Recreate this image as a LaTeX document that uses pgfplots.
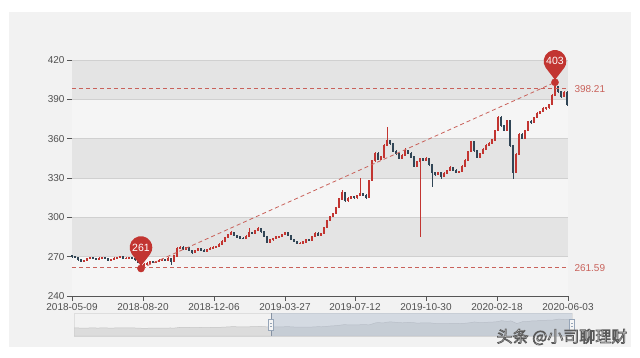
\documentclass[border=0pt]{standalone}
\usepackage{fontspec}
\setmainfont{Liberation Sans}
\newfontfamily\cjk{Noto Sans CJK SC}
\usepackage{pgfplots}
\usepackage{pgfplotstable}
\pgfplotsset{compat=1.18}
\definecolor{upc}{HTML}{C23531}
\definecolor{dnc}{HTML}{314656}
\definecolor{panel}{HTML}{F2F2F2}
\definecolor{banddark}{HTML}{E4E4E4}
\definecolor{bandlight}{HTML}{F5F5F5}
\definecolor{gridc}{HTML}{D0D0D0}
\definecolor{axc}{HTML}{555555}
\definecolor{labc}{HTML}{505050}
\definecolor{mlc}{HTML}{C9625B}
\definecolor{shadowc}{HTML}{DCDCDC}
\definecolor{shadowl}{HTML}{C4C4C4}
\definecolor{selc}{RGB}{167,183,204}

\pgfdeclareplotmark{pin}{%
  \pgfpathmoveto{\pgfqpoint{0pt}{2.5pt}}%
  \pgfpathlineto{\pgfqpoint{-9.26pt}{14.5pt}}%
  \pgfpatharc{215}{-35}{11.3pt}%
  \pgfpathclose
  \pgfusepathqfill
}

% daily candles (every 3rd trading day), x = trading-day index
\pgfplotstableread{
x o h l c
0 270.5 271.2 269.3 270.0
3 270.0 270.6 268.9 269.5
6 269.5 269.9 267.0 267.5
9 267.5 268.0 265.8 266.5
12 266.5 267.8 266.0 267.2
15 267.2 268.9 266.8 268.4
18 268.4 269.6 267.9 269.0
21 269.0 269.5 268.0 268.6
24 268.6 269.0 267.2 267.8
27 267.8 269.5 267.3 268.9
30 268.9 270.0 268.4 269.3
33 269.3 269.8 268.0 268.5
36 268.5 269.0 266.6 267.2
39 267.2 268.6 266.8 268.0
42 268.0 269.4 267.5 268.8
45 268.8 270.1 268.3 269.5
48 269.5 270.5 269.0 269.8
51 269.8 270.2 267.9 268.4
54 268.4 269.5 268.0 268.9
57 268.9 269.8 268.4 269.2
60 269.2 269.6 268.1 268.6
63 268.6 269.0 267.0 267.6
66 267.6 268.0 265.2 265.8
69 265.8 266.3 261.0 262.5
72 262.5 264.8 262.0 264.2
75 264.2 265.6 263.7 265.0
78 265.0 266.9 264.5 266.3
81 266.3 266.8 264.9 265.4
84 265.4 266.8 265.0 266.2
87 266.2 267.9 265.8 267.3
90 267.3 268.6 266.9 268.0
93 268.0 268.5 266.6 267.1
96 267.1 269.4 266.7 268.8
99 268.8 269.3 263.5 266.0
102 266.0 271.0 265.6 270.5
105 270.5 277.0 270.0 276.0
108 276.0 278.2 275.5 277.2
111 277.2 277.8 275.2 275.8
114 275.8 277.6 275.3 276.9
117 276.9 277.4 274.0 274.5
120 274.5 275.0 272.4 273.0
123 273.0 275.2 272.6 274.6
126 274.6 276.6 274.1 276.0
129 276.0 276.5 274.5 275.0
132 275.0 275.6 273.8 274.3
135 274.3 276.0 273.9 275.4
138 275.4 277.0 275.0 276.5
141 276.5 277.9 276.0 277.3
144 277.3 278.4 276.8 277.8
147 277.8 280.1 277.3 279.5
150 279.5 282.4 279.0 281.8
153 281.8 285.2 281.3 284.5
156 284.5 287.5 284.0 286.8
159 286.8 289.3 286.2 288.6
162 288.6 289.1 285.7 286.3
165 286.3 286.9 284.4 285.0
168 285.0 285.6 283.6 284.2
171 284.2 284.8 283.4 284.0
174 284.0 286.2 283.5 285.5
177 285.5 292.0 285.0 288.5
180 288.5 289.0 287.3 288.0
183 288.0 290.5 287.5 289.8
186 289.8 292.4 289.3 291.5
189 291.5 292.0 288.4 289.0
192 289.0 289.5 284.9 285.5
195 285.5 286.0 280.3 281.0
198 281.0 283.4 280.5 282.8
201 282.8 284.6 282.3 284.0
204 284.0 285.6 283.5 285.0
207 285.0 286.0 284.5 285.4
210 285.4 287.6 284.9 287.0
213 287.0 288.8 286.5 288.2
216 288.2 288.7 285.4 286.0
219 286.0 286.5 282.4 283.0
222 283.0 283.6 280.9 281.5
225 281.5 282.0 279.3 280.0
228 280.0 281.0 279.5 280.4
231 280.4 281.8 279.9 281.2
234 281.2 283.6 280.7 283.0
237 283.0 283.5 282.0 282.6
240 282.6 286.1 282.1 285.5
243 285.5 288.6 285.0 288.0
246 288.0 288.5 285.9 286.5
249 286.5 288.1 286.0 287.5
252 287.5 292.6 287.0 292.0
255 292.0 298.1 291.5 297.5
258 297.5 301.1 297.0 300.5
261 300.5 303.6 300.0 303.0
264 303.0 308.2 302.5 307.5
267 307.5 314.8 307.0 314.0
270 314.0 320.5 313.5 319.0
273 319.0 319.6 311.5 313.0
276 313.0 315.2 312.0 314.5
279 314.5 316.5 313.8 315.8
282 315.8 316.3 314.0 314.8
285 314.8 317.2 314.3 316.5
288 316.5 330.0 316.0 318.0
291 318.0 318.6 316.2 317.0
294 317.0 317.5 314.2 315.0
297 315.0 328.8 314.5 328.0
300 328.0 343.8 327.5 343.0
303 343.0 349.8 342.5 349.0
306 349.0 349.5 343.8 344.5
309 344.5 346.8 343.9 346.0
312 346.0 355.8 345.5 355.0
315 355.0 369.0 354.5 358.5
318 358.5 359.2 355.3 356.0
321 356.0 356.6 349.8 350.5
324 350.5 351.0 347.8 348.5
327 348.5 349.0 344.2 345.0
330 345.0 348.2 344.5 347.5
333 347.5 353.0 347.0 351.0
336 351.0 351.6 348.3 349.0
339 349.0 349.5 345.3 346.0
342 346.0 346.5 338.2 339.0
345 339.0 343.2 338.5 342.5
348 342.5 345.5 285.0 344.5
351 344.5 345.0 342.8 343.5
354 343.5 346.2 343.0 345.0
357 345.0 345.6 339.3 340.0
360 340.0 340.5 323.0 334.0
363 334.0 334.6 331.8 332.5
366 332.5 334.8 332.0 334.0
369 334.0 334.5 329.5 331.5
372 331.5 334.2 331.0 333.5
375 333.5 336.2 333.0 335.5
378 335.5 338.8 335.0 338.0
381 338.0 338.6 335.3 336.0
384 336.0 336.5 333.8 334.5
387 334.5 335.7 334.0 335.0
390 335.0 339.8 334.5 339.0
393 339.0 344.2 338.5 343.5
396 343.5 350.8 343.0 350.0
399 350.0 358.5 349.5 357.5
402 357.5 358.0 350.2 351.0
405 351.0 351.6 345.0 346.0
408 346.0 349.2 345.5 348.5
411 348.5 352.8 348.0 352.0
414 352.0 355.8 351.5 355.0
417 355.0 357.2 354.5 356.5
420 356.5 359.8 356.0 359.0
423 359.0 366.8 358.5 366.0
426 366.0 377.5 365.5 376.5
429 376.5 377.0 369.2 370.0
432 370.0 370.6 365.8 366.5
435 366.5 374.3 366.0 373.5
438 373.5 374.0 354.0 355.0
441 355.0 355.5 329.0 334.0
444 334.0 348.8 333.5 348.0
447 348.0 364.3 347.5 363.5
450 363.5 364.0 359.8 360.5
453 360.5 366.8 360.0 366.0
456 366.0 373.8 365.5 373.0
459 373.0 374.0 371.5 372.5
462 372.5 376.8 372.0 376.0
465 376.0 380.2 375.5 379.5
468 379.5 381.2 379.0 380.5
471 380.5 383.8 380.0 383.0
474 383.0 384.3 382.2 383.5
477 383.5 386.8 383.0 386.0
480 386.0 393.8 385.5 393.0
483 393.0 403.0 392.5 400.0
486 400.0 400.5 395.2 396.0
489 396.0 396.6 391.2 392.0
492 392.0 396.5 391.5 395.5
495 395.5 396.0 385.0 386.0
}\data

\begin{document}
\begin{tikzpicture}
\useasboundingbox (0,0) rectangle (640pt,357pt);
\fill[white] (0,0) rectangle (640pt,357pt);
\fill[panel] (9pt,10pt) rectangle (631pt,345pt);

\begin{axis}[
  at={(72pt,61pt)}, anchor=south west,
  scale only axis, width=496pt, height=236pt,
  xmin=0, xmax=496, ymin=240, ymax=420,
  clip=false,
  axis x line*=bottom, axis y line*=left,
  axis line style={draw=axc, line width=0.6pt},
  tick align=outside, major tick length=5pt,
  tick style={draw=axc, line width=0.6pt},
  xtick={0,71,142,213,283,354,425,496},
  xticklabels={2018-05-09,2018-08-20,2018-12-06,2019-03-27,2019-07-12,2019-10-30,2020-02-18,2020-06-03},
  ytick={240,270,300,330,360,390,420},
  /pgf/number format/assume math mode=true,
  tick label style={font=\fontsize{10}{12}\selectfont, text=labc},
  yticklabel style={xshift=1pt},
  xticklabel style={yshift=1pt},
]
% split areas
\fill[bandlight] (axis cs:0,240) rectangle (axis cs:496,270);
\fill[banddark]  (axis cs:0,270) rectangle (axis cs:496,300);
\fill[bandlight] (axis cs:0,300) rectangle (axis cs:496,330);
\fill[banddark]  (axis cs:0,330) rectangle (axis cs:496,360);
\fill[bandlight] (axis cs:0,360) rectangle (axis cs:496,390);
\fill[banddark]  (axis cs:0,390) rectangle (axis cs:496,420);
\draw[gridc, line width=0.6pt] (axis cs:0,270) -- (axis cs:496,270);
\draw[gridc, line width=0.6pt] (axis cs:0,300) -- (axis cs:496,300);
\draw[gridc, line width=0.6pt] (axis cs:0,330) -- (axis cs:496,330);
\draw[gridc, line width=0.6pt] (axis cs:0,360) -- (axis cs:496,360);
\draw[gridc, line width=0.6pt] (axis cs:0,390) -- (axis cs:496,390);
\draw[gridc, line width=0.6pt] (axis cs:0,420) -- (axis cs:496,420);

% wicks
\addplot[draw=none, mark=none, forget plot,
  error bars/.cd, y dir=both, y explicit, error mark=none,
  error bar style={draw=upc, solid, line width=0.7pt}]
  table[x=x, y expr={\thisrow{c}>=\thisrow{o} ? (\thisrow{h}+\thisrow{l})/2 : nan},
        y error expr={(\thisrow{h}-\thisrow{l})/2}] {\data};
\addplot[draw=none, mark=none, forget plot,
  error bars/.cd, y dir=both, y explicit, error mark=none,
  error bar style={draw=dnc, solid, line width=0.7pt}]
  table[x=x, y expr={\thisrow{c}<\thisrow{o} ? (\thisrow{h}+\thisrow{l})/2 : nan},
        y error expr={(\thisrow{h}-\thisrow{l})/2}] {\data};
% bodies
\addplot[draw=none, mark=none, forget plot,
  error bars/.cd, y dir=both, y explicit, error mark=none,
  error bar style={draw=upc, solid, line width=2.7pt}]
  table[x=x, y expr={\thisrow{c}>=\thisrow{o} ? (\thisrow{o}+\thisrow{c})/2 : nan},
        y error expr={abs(\thisrow{c}-\thisrow{o})/2+0.4}] {\data};
\addplot[draw=none, mark=none, forget plot,
  error bars/.cd, y dir=both, y explicit, error mark=none,
  error bar style={draw=dnc, solid, line width=2.7pt}]
  table[x=x, y expr={\thisrow{c}<\thisrow{o} ? (\thisrow{o}+\thisrow{c})/2 : nan},
        y error expr={abs(\thisrow{c}-\thisrow{o})/2+0.4}] {\data};

% mark lines
\addplot[mlc, line width=0.8pt, dash pattern=on 4pt off 3pt, forget plot] coordinates {(0,398.21) (496,398.21)};
\addplot[mlc, line width=0.8pt, dash pattern=on 4pt off 3pt, forget plot] coordinates {(0,261.59) (496,261.59)};
\addplot[mlc, line width=0.8pt, dash pattern=on 4pt off 3pt, forget plot] coordinates {(69,261) (483,403)};
\node[anchor=west, text=mlc, font=\fontsize{10}{12}\selectfont, xshift=3pt] at (axis cs:496,398.21) {398.21};
\node[anchor=west, text=mlc, font=\fontsize{10}{12}\selectfont, xshift=3pt] at (axis cs:496,261.59) {261.59};

% mark points
\addplot[upc, mark=*, mark size=3.6pt, draw=none, forget plot] coordinates {(69,261) (483,403)};
\addplot[upc, mark=pin, draw=none, forget plot] coordinates {(69,261) (483,403)};
\coordinate (pmin) at (axis cs:69,261);
\coordinate (pmax) at (axis cs:483,403);
\end{axis}
\node[text=white, font=\fontsize{10.5}{12}\selectfont] at ([yshift=21pt]pmin) {261};
\node[text=white, font=\fontsize{10.5}{12}\selectfont] at ([yshift=21pt]pmax) {403};

% data zoom slider
\draw[draw=black!13, line width=0.6pt] (74pt,21pt) rectangle (572pt,44pt);
\begin{axis}[
  at={(74pt,21pt)}, anchor=south west,
  scale only axis, width=498pt, height=23pt,
  xmin=0, xmax=496, ymin=150, ymax=490,
  hide axis,
]
\addplot[fill=shadowc, draw=shadowl, line width=0.5pt] table[x=x, y=c] {\data} \closedcycle;
\end{axis}
\fill[selc, opacity=0.4] (271pt,21pt) rectangle (572pt,44pt);
\draw[selc!80!black, line width=0.5pt] (271pt,21pt) -- (271pt,44pt);
\filldraw[fill=black!4, draw=selc!90!black, line width=0.5pt] (268.5pt,27pt) rectangle (273.5pt,38pt);
\filldraw[fill=black!4, draw=selc!90!black, line width=0.5pt] (569.5pt,27pt) rectangle (574.5pt,38pt);
\draw[selc!90!black, line width=0.4pt] (270pt,31pt) -- (272pt,31pt) (270pt,34pt) -- (272pt,34pt);
\draw[selc!90!black, line width=0.4pt] (571pt,31pt) -- (573pt,31pt) (571pt,34pt) -- (573pt,34pt);

% watermark: white text with grey outline (fill + stroke text render mode)
\node[font=\cjk\fontsize{16}{18}\selectfont] at (562pt,20pt)
  {\color{white}\special{pdf:literal direct 0.35 G 0.7 w 2 Tr}头条 @小司聊理财\special{pdf:literal direct 0 Tr}};
\end{tikzpicture}
\end{document}
